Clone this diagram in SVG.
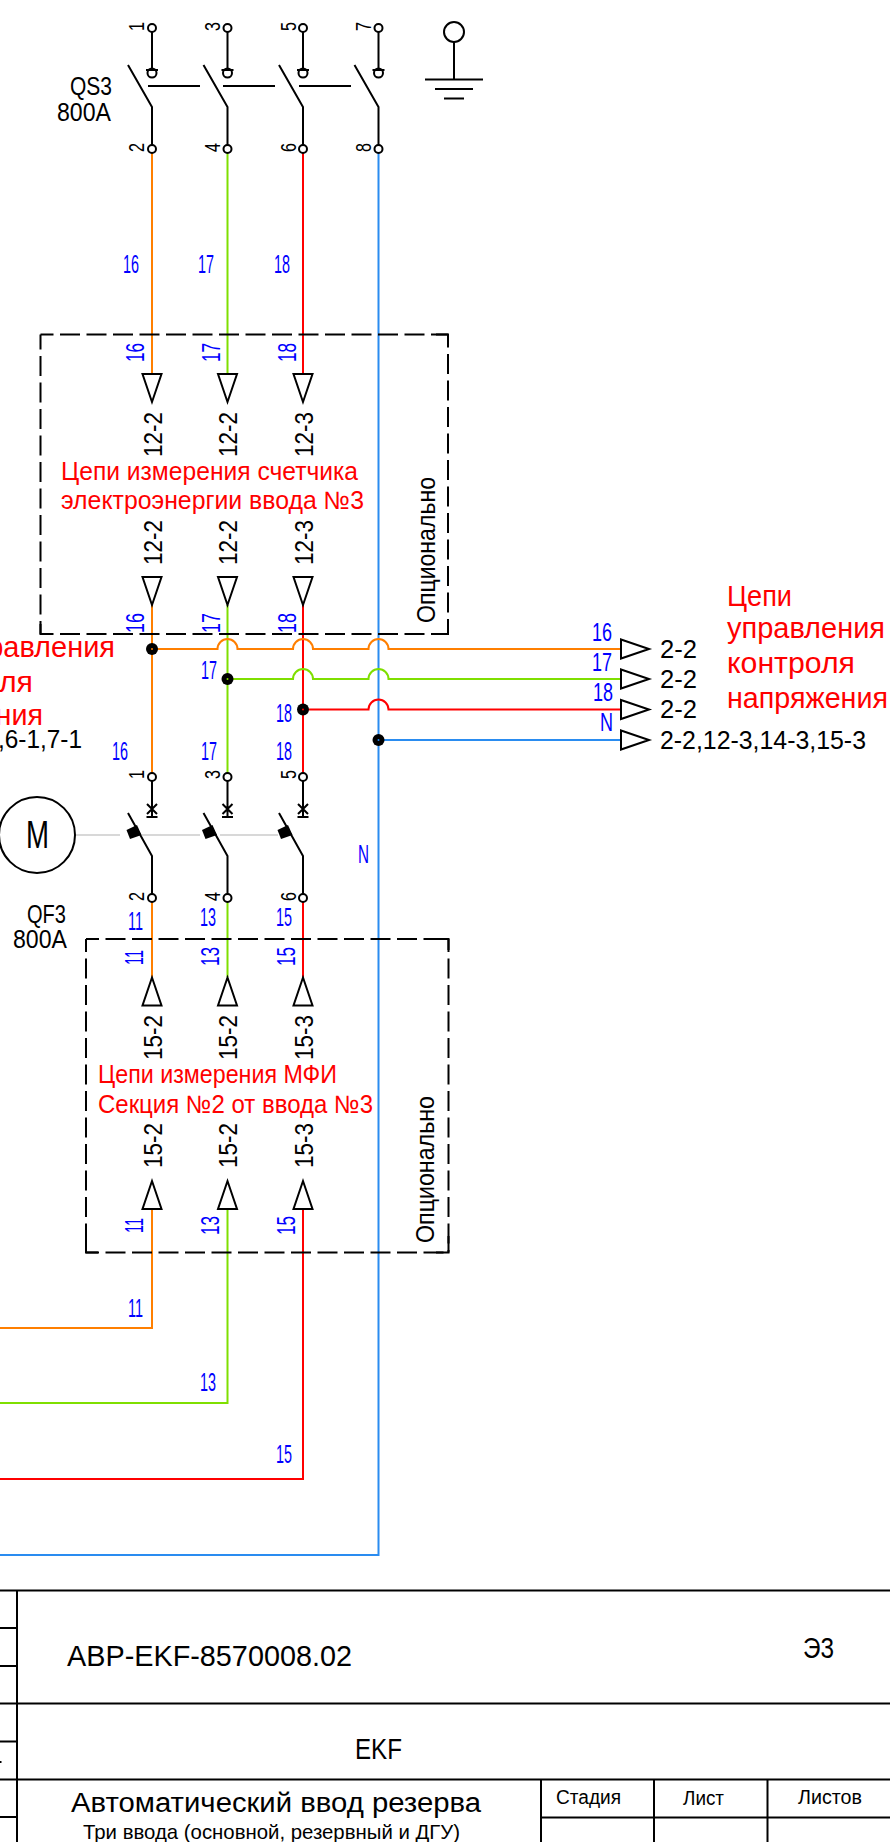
<svg xmlns="http://www.w3.org/2000/svg" xmlns:xlink="http://www.w3.org/1999/xlink" width="890" height="1842" viewBox="0 0 890 1842">
<style>
text{font-family:"Liberation Sans","Noto Sans",sans-serif}
.w{fill:none;stroke-width:2}
.o{stroke:#ff7f00}.g{stroke:#7fdf00}.r{stroke:#ff0000}.b{stroke:#2a8cf0}
.k{fill:none;stroke:#000;stroke-width:2}
.kw{fill:#fff;stroke:#000;stroke-width:2}
.d{fill:none;stroke:#000;stroke-width:2;stroke-dasharray:20 6.5}
.bl{fill:#0000ff;font-size:26px}
.bk{fill:#000;font-size:25px}
.nu{fill:#000;font-size:22px}
.re{fill:#ff0000;font-size:25px}
.rb{fill:#ff0000;font-size:29px}
.hd{fill:#000;font-size:20px}
</style>
<defs>
<g id="pole"><path class="k" d="M0 4V42M-6 42H6M-24 37L0 79V117"/><circle class="k" cy="45" r="4.500"/><circle class="kw" r="4"/><circle class="kw" cy="121" r="4"/></g>
<g id="bpole"><path class="k" d="M0 4V40M-5 27L5 37M5 27L-5 37M-5.500 40H5.500M-24 36L0 79V117"/><path d="M-25.500 53L-15 48L-10.500 58L-22 62Z" fill="#000"/><circle class="kw" r="4"/><circle class="kw" cy="121" r="4"/></g>
<path id="td" class="kw" d="M-9.500 0H9.500L0 28Z"/>
<path id="tu" class="kw" d="M-9.500 28H9.500L0 0Z"/>
<path id="tr" class="kw" d="M0 -9.500L28 0L0 9.500Z"/>
<circle id="dot" r="6" fill="#000"/>
</defs>

<g id="connectors">
<path class="w o" d="M152 153V374M152 605V773M152 901V977M152 1209V1328H0"/>
<path class="w g" d="M227.500 153V374M227.500 605V773M227.500 901V977M227.500 1209V1403H0"/>
<path class="w r" d="M303 153V374M303 605V773M303 901V977M303 1209V1479H0"/>
<path class="w b" d="M378.500 153V1555H0"/>
<path class="w o" d="M152 649H217.500a10 10 0 0 1 20 0H293a10 10 0 0 1 20 0H368.500a10 10 0 0 1 20 0H621"/>
<path class="w g" d="M227.500 679H293a10 10 0 0 1 20 0H368.500a10 10 0 0 1 20 0H621"/>
<path class="w r" d="M303 709.500H368.500a10 10 0 0 1 20 0H621"/>
<path class="w b" d="M378.500 740H621"/>
<path fill="none" stroke="#d8d8d8" stroke-width="2" d="M75 835H120M142 835H200M220 835H278"/>
<path class="k" d="M148 86H200M223 86H275M299 86H351"/>
</g>

<g id="junctions">
<use xlink:href="#dot" href="#dot" x="152" y="649"/><circle cx="152" cy="649" r="1" fill="#ff7f00"/>
<use xlink:href="#dot" href="#dot" x="227.500" y="679"/><circle cx="227.500" cy="679" r="1" fill="#7fdf00"/>
<use xlink:href="#dot" href="#dot" x="303" y="709.500"/><circle cx="303" cy="709.500" r="1" fill="#ff0000"/>
<use xlink:href="#dot" href="#dot" x="378.500" y="740"/><circle cx="378.500" cy="740" r="1" fill="#2a8cf0"/>
</g>

<g id="QS3">
<use xlink:href="#pole" href="#pole" x="152" y="28"/>
<use xlink:href="#pole" href="#pole" x="227.500" y="28"/>
<use xlink:href="#pole" href="#pole" x="303" y="28"/>
<use xlink:href="#pole" href="#pole" x="378.500" y="28"/>
<text class="bk" x="70" y="95" textLength="42" lengthAdjust="spacingAndGlyphs">QS3</text>
<text class="bk" x="57" y="121" textLength="54" lengthAdjust="spacingAndGlyphs">800A</text>
<text class="nu" transform="translate(144 31) rotate(-90)" textLength="9" lengthAdjust="spacingAndGlyphs">1</text>
<text class="nu" transform="translate(220 31) rotate(-90)" textLength="9" lengthAdjust="spacingAndGlyphs">3</text>
<text class="nu" transform="translate(296 31) rotate(-90)" textLength="9" lengthAdjust="spacingAndGlyphs">5</text>
<text class="nu" transform="translate(371 31) rotate(-90)" textLength="9" lengthAdjust="spacingAndGlyphs">7</text>
<text class="nu" transform="translate(144 152) rotate(-90)" textLength="9" lengthAdjust="spacingAndGlyphs">2</text>
<text class="nu" transform="translate(220 152) rotate(-90)" textLength="9" lengthAdjust="spacingAndGlyphs">4</text>
<text class="nu" transform="translate(296 152) rotate(-90)" textLength="9" lengthAdjust="spacingAndGlyphs">6</text>
<text class="nu" transform="translate(371 152) rotate(-90)" textLength="9" lengthAdjust="spacingAndGlyphs">8</text>
</g>

<g id="earth">
<circle class="k" cx="454" cy="32" r="10"/>
<path class="k" d="M454 42V79M425 79.500H483M435 89H473M444 98.500H464"/>
</g>

<g id="labels-wires">
<text class="bl" x="123" y="273" textLength="16" lengthAdjust="spacingAndGlyphs">16</text>
<text class="bl" x="198" y="273" textLength="16" lengthAdjust="spacingAndGlyphs">17</text>
<text class="bl" x="274" y="273" textLength="16" lengthAdjust="spacingAndGlyphs">18</text>
<text class="bl" x="112" y="760" textLength="16" lengthAdjust="spacingAndGlyphs">16</text>
<text class="bl" x="201" y="760" textLength="16" lengthAdjust="spacingAndGlyphs">17</text>
<text class="bl" x="276" y="760" textLength="16" lengthAdjust="spacingAndGlyphs">18</text>
<text class="bl" x="201" y="679" textLength="16" lengthAdjust="spacingAndGlyphs">17</text>
<text class="bl" x="276" y="722" textLength="16" lengthAdjust="spacingAndGlyphs">18</text>
<text class="bl" x="358" y="863" textLength="11" lengthAdjust="spacingAndGlyphs">N</text>
<text class="bl" x="128" y="930" textLength="15" lengthAdjust="spacingAndGlyphs">11</text>
<text class="bl" x="200" y="926" textLength="16" lengthAdjust="spacingAndGlyphs">13</text>
<text class="bl" x="276" y="926" textLength="16" lengthAdjust="spacingAndGlyphs">15</text>
<text class="bl" x="128" y="1317" textLength="15" lengthAdjust="spacingAndGlyphs">11</text>
<text class="bl" x="200" y="1391" textLength="16" lengthAdjust="spacingAndGlyphs">13</text>
<text class="bl" x="276" y="1463" textLength="16" lengthAdjust="spacingAndGlyphs">15</text>
<text class="bl" x="592" y="641" textLength="20" lengthAdjust="spacingAndGlyphs">16</text>
<text class="bl" x="592" y="671" textLength="20" lengthAdjust="spacingAndGlyphs">17</text>
<text class="bl" x="593" y="701" textLength="20" lengthAdjust="spacingAndGlyphs">18</text>
<text class="bl" x="600" y="731" textLength="13" lengthAdjust="spacingAndGlyphs">N</text>
</g>

<g id="box-meter">
<path class="d" stroke-dashoffset="7" d="M40.500 334.500H448"/>
<path class="d" stroke-dashoffset="5" d="M40.500 334.500V634"/>
<path class="d" stroke-dashoffset="7" d="M40.500 634H448"/>
<path class="d" stroke-dashoffset="7" d="M448 334.500V634"/>
<path class="k" d="M40.500 624V634H52M436 634H448V624M448 346V334.500H436"/>
<use xlink:href="#td" href="#td" x="152" y="374"/><use xlink:href="#td" href="#td" x="227.500" y="374"/><use xlink:href="#td" href="#td" x="303" y="374"/>
<use xlink:href="#td" href="#td" x="152" y="577"/><use xlink:href="#td" href="#td" x="227.500" y="577"/><use xlink:href="#td" href="#td" x="303" y="577"/>
<text class="bl" transform="translate(144 362) rotate(-90)" textLength="19" lengthAdjust="spacingAndGlyphs">16</text>
<text class="bl" transform="translate(220 362) rotate(-90)" textLength="19" lengthAdjust="spacingAndGlyphs">17</text>
<text class="bl" transform="translate(296 362) rotate(-90)" textLength="19" lengthAdjust="spacingAndGlyphs">18</text>
<text class="bl" transform="translate(144 633) rotate(-90)" textLength="20" lengthAdjust="spacingAndGlyphs">16</text>
<text class="bl" transform="translate(220 633) rotate(-90)" textLength="20" lengthAdjust="spacingAndGlyphs">17</text>
<text class="bl" transform="translate(296 633) rotate(-90)" textLength="20" lengthAdjust="spacingAndGlyphs">18</text>
<text class="bk" transform="translate(161.500 457) rotate(-90)" textLength="45" lengthAdjust="spacingAndGlyphs">12-2</text>
<text class="bk" transform="translate(237 457) rotate(-90)" textLength="45" lengthAdjust="spacingAndGlyphs">12-2</text>
<text class="bk" transform="translate(313 457) rotate(-90)" textLength="45" lengthAdjust="spacingAndGlyphs">12-3</text>
<text class="bk" transform="translate(161.500 565) rotate(-90)" textLength="45" lengthAdjust="spacingAndGlyphs">12-2</text>
<text class="bk" transform="translate(237 565) rotate(-90)" textLength="45" lengthAdjust="spacingAndGlyphs">12-2</text>
<text class="bk" transform="translate(313 565) rotate(-90)" textLength="45" lengthAdjust="spacingAndGlyphs">12-3</text>
<text class="re" x="61" y="480" textLength="297" lengthAdjust="spacingAndGlyphs">Цепи измерения счетчика</text>
<text class="re" x="61" y="509" textLength="303" lengthAdjust="spacingAndGlyphs">электроэнергии ввода №3</text>
<text class="bk" transform="translate(435 623) rotate(-90)" textLength="146" lengthAdjust="spacingAndGlyphs">Опционально</text>
</g>

<g id="box-mfi">
<path class="d" stroke-dashoffset="7" d="M86 939H448.500"/>
<path class="d" stroke-dashoffset="7" d="M86 939V1252.500"/>
<path class="d" stroke-dashoffset="7" d="M86 1252.500H448.500"/>
<path class="d" stroke-dashoffset="7" d="M448.500 939V1252.500"/>
<path class="k" d="M86 1242V1252.500H98M436 1252.500H448.500V1236M448.500 950V939H436"/>
<use xlink:href="#tu" href="#tu" x="152" y="977.500"/><use xlink:href="#tu" href="#tu" x="227.500" y="977.500"/><use xlink:href="#tu" href="#tu" x="303" y="977.500"/>
<use xlink:href="#tu" href="#tu" x="152" y="1181"/><use xlink:href="#tu" href="#tu" x="227.500" y="1181"/><use xlink:href="#tu" href="#tu" x="303" y="1181"/>
<text class="bl" transform="translate(143 965) rotate(-90)" textLength="15" lengthAdjust="spacingAndGlyphs">11</text>
<text class="bl" transform="translate(219 966) rotate(-90)" textLength="19" lengthAdjust="spacingAndGlyphs">13</text>
<text class="bl" transform="translate(295 966) rotate(-90)" textLength="19" lengthAdjust="spacingAndGlyphs">15</text>
<text class="bl" transform="translate(143 1233) rotate(-90)" textLength="15" lengthAdjust="spacingAndGlyphs">11</text>
<text class="bl" transform="translate(219 1235) rotate(-90)" textLength="19" lengthAdjust="spacingAndGlyphs">13</text>
<text class="bl" transform="translate(295 1235) rotate(-90)" textLength="19" lengthAdjust="spacingAndGlyphs">15</text>
<text class="bk" transform="translate(161.500 1060) rotate(-90)" textLength="45" lengthAdjust="spacingAndGlyphs">15-2</text>
<text class="bk" transform="translate(237 1060) rotate(-90)" textLength="45" lengthAdjust="spacingAndGlyphs">15-2</text>
<text class="bk" transform="translate(312.500 1060) rotate(-90)" textLength="45" lengthAdjust="spacingAndGlyphs">15-3</text>
<text class="bk" transform="translate(161.500 1168) rotate(-90)" textLength="45" lengthAdjust="spacingAndGlyphs">15-2</text>
<text class="bk" transform="translate(237 1168) rotate(-90)" textLength="45" lengthAdjust="spacingAndGlyphs">15-2</text>
<text class="bk" transform="translate(312.500 1168) rotate(-90)" textLength="45" lengthAdjust="spacingAndGlyphs">15-3</text>
<text class="re" x="98" y="1083" textLength="239" lengthAdjust="spacingAndGlyphs">Цепи измерения МФИ</text>
<text class="re" x="98" y="1113" textLength="275" lengthAdjust="spacingAndGlyphs">Секция №2 от ввода №3</text>
<text class="bk" transform="translate(434 1243) rotate(-90)" textLength="147" lengthAdjust="spacingAndGlyphs">Опционально</text>
</g>

<g id="QF3">
<use xlink:href="#bpole" href="#bpole" x="152" y="777"/>
<use xlink:href="#bpole" href="#bpole" x="227.500" y="777"/>
<use xlink:href="#bpole" href="#bpole" x="303" y="777"/>
<text class="bk" x="27" y="923" textLength="39" lengthAdjust="spacingAndGlyphs">QF3</text>
<text class="bk" x="13" y="948" textLength="54" lengthAdjust="spacingAndGlyphs">800A</text>
<text class="nu" transform="translate(144 779) rotate(-90)" textLength="9" lengthAdjust="spacingAndGlyphs">1</text>
<text class="nu" transform="translate(220 779) rotate(-90)" textLength="9" lengthAdjust="spacingAndGlyphs">3</text>
<text class="nu" transform="translate(296 779) rotate(-90)" textLength="9" lengthAdjust="spacingAndGlyphs">5</text>
<text class="nu" transform="translate(144 901) rotate(-90)" textLength="9" lengthAdjust="spacingAndGlyphs">2</text>
<text class="nu" transform="translate(220 901) rotate(-90)" textLength="9" lengthAdjust="spacingAndGlyphs">4</text>
<text class="nu" transform="translate(296 901) rotate(-90)" textLength="9" lengthAdjust="spacingAndGlyphs">6</text>
</g>

<g id="motor">
<circle class="kw" cx="37" cy="835" r="38"/>
<text x="26" y="848" fill="#000" font-size="38" textLength="23" lengthAdjust="spacingAndGlyphs">M</text>
</g>

<g id="terminals">
<use xlink:href="#tr" href="#tr" x="621" y="649"/>
<use xlink:href="#tr" href="#tr" x="621" y="679"/>
<use xlink:href="#tr" href="#tr" x="621" y="709.500"/>
<use xlink:href="#tr" href="#tr" x="621" y="740"/>
<text class="bk" x="660" y="658" textLength="37" lengthAdjust="spacingAndGlyphs">2-2</text>
<text class="bk" x="660" y="688" textLength="37" lengthAdjust="spacingAndGlyphs">2-2</text>
<text class="bk" x="660" y="718" textLength="37" lengthAdjust="spacingAndGlyphs">2-2</text>
<text class="bk" x="660" y="749" textLength="206" lengthAdjust="spacingAndGlyphs">2-2,12-3,14-3,15-3</text>
</g>

<g id="notes">
<text class="rb" x="727" y="606" textLength="65" lengthAdjust="spacingAndGlyphs">Цепи</text>
<text class="rb" x="727" y="638" textLength="158" lengthAdjust="spacingAndGlyphs">управления</text>
<text class="rb" x="727" y="673" textLength="128" lengthAdjust="spacingAndGlyphs">контроля</text>
<text class="rb" x="727" y="708" textLength="161" lengthAdjust="spacingAndGlyphs">напряжения</text>
<text class="rb" x="-43" y="657" textLength="158" lengthAdjust="spacingAndGlyphs">управления</text>
<text class="rb" x="-95" y="692" textLength="128" lengthAdjust="spacingAndGlyphs">контроля</text>
<text class="rb" x="-118" y="725" textLength="161" lengthAdjust="spacingAndGlyphs">напряжения</text>
<text class="bk" x="-2" y="748" textLength="84" lengthAdjust="spacingAndGlyphs">,6-1,7-1</text>
</g>

<g id="title-block">
<path class="k" d="M0 1590.500H890M0 1703.500H890M0 1779.500H890M541 1817.500H890M17 1590.500V1842M541 1779.500V1842M654 1779.500V1842M767.500 1779.500V1842M0 1628H17M0 1666H17M0 1741.500H17M0 1817H17"/>
<path d="M0 1761H1.500V1763H0Z" fill="#000"/>
<text x="67" y="1666" fill="#000" font-size="30" textLength="285" lengthAdjust="spacingAndGlyphs">АВР-EKF-8570008.02</text>
<text x="803" y="1658" fill="#000" font-size="30" textLength="31" lengthAdjust="spacingAndGlyphs">Э3</text>
<text x="355" y="1759" fill="#000" font-size="30" textLength="47" lengthAdjust="spacingAndGlyphs">EKF</text>
<text x="71" y="1812" fill="#000" font-size="27" textLength="410" lengthAdjust="spacingAndGlyphs">Автоматический ввод резерва</text>
<text x="83" y="1839" fill="#000" font-size="21" textLength="377" lengthAdjust="spacingAndGlyphs">Три ввода (основной, резервный и ДГУ)</text>
<text class="hd" x="556" y="1804" textLength="65" lengthAdjust="spacingAndGlyphs">Стадия</text>
<text class="hd" x="683" y="1805" textLength="41" lengthAdjust="spacingAndGlyphs">Лист</text>
<text class="hd" x="798" y="1804" textLength="64" lengthAdjust="spacingAndGlyphs">Листов</text>
</g>
</svg>
